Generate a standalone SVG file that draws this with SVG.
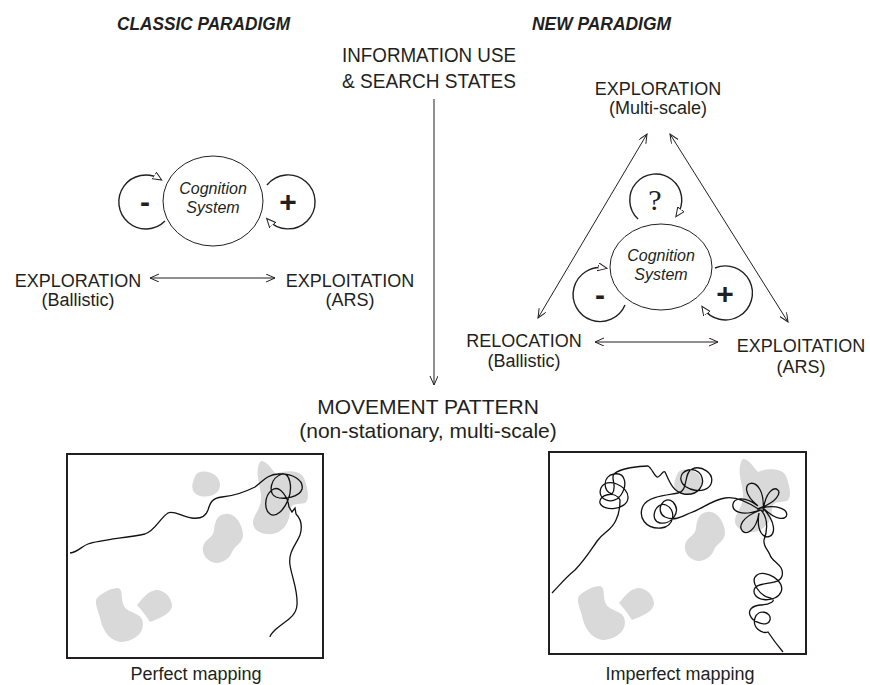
<svg xmlns="http://www.w3.org/2000/svg" width="870" height="685" viewBox="0 0 870 685">
<style>
text{font-family:"Liberation Sans",Arial,sans-serif;fill:#231f20}
.t{font-size:18px;text-anchor:middle}
.h{font-family:"Liberation Sans Narrow","Liberation Sans",Arial,sans-serif;font-size:19px;font-weight:bold;font-style:italic}
.n{font-family:"Liberation Sans Narrow","Liberation Sans",Arial,sans-serif;font-size:20px;text-anchor:middle}
.c{font-size:16px;font-style:italic;text-anchor:middle}
.s{font-size:30px;font-weight:bold;text-anchor:middle}
.ln{stroke:#231f20;stroke-width:1;fill:none}
.loop{stroke:#231f20;stroke-width:1.4;fill:none;marker-end:url(#tri)}
.blob{fill:#d9d9da}
.trk{stroke:#111;stroke-width:1.3;fill:none}
.box{fill:none;stroke:#231f20;stroke-width:2}
</style>
<defs>
<marker id="chev" markerUnits="userSpaceOnUse" markerWidth="12" markerHeight="10" refX="9" refY="4" orient="auto-start-reverse">
<path d="M0,0 L9,4 L0,8" fill="none" stroke="#231f20" stroke-width="1"/>
</marker>
<marker id="tri" markerUnits="userSpaceOnUse" markerWidth="12" markerHeight="10" refX="7" refY="4" orient="auto">
<path d="M0,0 L9,4 L0,8 Z" fill="#fff" stroke="#231f20" stroke-width="1"/>
</marker>
<g id="blobs">
<path class="blob" d="M200,472 C210,470 220,476 220,485 C220,494 210,498 200,496 C193,494 191,488 193,482 C195,476 196,473 200,472 Z"/>
<path class="blob" d="M262,461 C268,462 272,470 276,474 C285,470 300,470 304,478 C308,488 310,500 305,503 C298,505 292,502 290,510 C290,520 285,532 272,534 C262,535 252,530 253,522 C254,514 260,510 261,500 C262,490 256,478 258,468 C259,463 260,461 262,461 Z"/>
<path class="blob" d="M225,514 C235,512 243,525 243,535 C243,543 235,545 232,552 C229,560 220,565 212,562 C204,559 201,550 204,544 C207,538 213,538 214,530 C215,520 218,515 225,514 Z"/>
<path class="blob" d="M97,598 C103,592 112,588 118,588 C124,590 120,598 124,606 C128,614 143,612 143,624 C143,636 130,642 120,642 C108,640 102,628 100,618 C98,610 94,602 97,598 Z"/>
<path class="blob" d="M137,605 C143,598 148,591 156,590 C165,590 172,598 172,606 C171,614 160,618 150,622 C146,616 142,610 137,605 Z"/>
</g>
</defs>

<g id="titles">
<text class="h" x="117" y="30" textLength="173" lengthAdjust="spacingAndGlyphs">CLASSIC  PARADIGM</text>
<text class="h" x="532" y="30" textLength="139" lengthAdjust="spacingAndGlyphs">NEW PARADIGM</text>
</g>

<g id="info">
<text class="n" x="429" y="62" textLength="174" lengthAdjust="spacingAndGlyphs">INFORMATION USE</text>
<text class="n" x="429" y="88" textLength="174" lengthAdjust="spacingAndGlyphs">&amp; SEARCH STATES</text>
</g>

<g id="cog-left">
<ellipse cx="213" cy="201" rx="50" ry="45" fill="#fff" stroke="#231f20" stroke-width="1"/>
<text class="c" x="213" y="194">Cognition</text>
<text class="c" x="213" y="213">System</text>
</g>
<g id="loop-minus-left">
<path class="loop" d="M165,221 A27,27 0 1 1 160,179"/>
<text class="s" x="145" y="212">-</text>
</g>
<g id="loop-plus-left">
<path class="loop" d="M267,185 A27,27 0 1 1 268,220"/>
<text class="s" x="288" y="212">+</text>
</g>
<g id="exploration-left">
<text class="t" x="78" y="287">EXPLORATION</text>
<text class="t" x="78" y="306">(Ballistic)</text>
</g>
<g id="exploitation-left">
<text class="t" x="350" y="287">EXPLOITATION</text>
<text class="t" x="350" y="306">(ARS)</text>
</g>

<g id="exploration-right">
<text class="t" x="658" y="95">EXPLORATION</text>
<text class="t" x="658" y="114">(Multi-scale)</text>
</g>
<g id="cog-right">
<ellipse cx="661" cy="267" rx="51" ry="43" fill="#fff" stroke="#231f20" stroke-width="1"/>
<text class="c" x="661" y="261">Cognition</text>
<text class="c" x="661" y="280">System</text>
</g>
<g id="loop-q">
<path class="loop" d="M638,219 A26,26 0 1 1 677,215"/>
<text x="655" y="210" style="font-family:'Liberation Serif',serif;font-size:30px;text-anchor:middle">?</text>
</g>
<g id="loop-minus-right">
<path class="loop" d="M625,305 A27,27 0 1 1 605,268"/>
<text class="s" x="600" y="305">-</text>
</g>
<g id="loop-plus-right">
<path class="loop" d="M715,268 A27,27 0 1 1 703,308"/>
<text class="s" x="725" y="304">+</text>
</g>
<g id="relocation">
<text class="t" x="524" y="347">RELOCATION</text>
<text class="t" x="524" y="367">(Ballistic)</text>
</g>
<g id="exploitation-right">
<text class="t" x="801" y="352">EXPLOITATION</text>
<text class="t" x="801" y="373">(ARS)</text>
</g>

<g id="movement">
<text x="428" y="414" style="font-size:21px;text-anchor:middle">MOVEMENT PATTERN</text>
<text x="428" y="438" style="font-size:21px;text-anchor:middle">(non-stationary, multi-scale)</text>
</g>

<g id="connectors">
<line class="ln" x1="434" y1="99" x2="434" y2="385" marker-end="url(#chev)"/>
<line class="ln" x1="150" y1="278" x2="275" y2="278" marker-start="url(#chev)" marker-end="url(#chev)"/>
<line class="ln" x1="647" y1="134" x2="538" y2="318" marker-start="url(#chev)" marker-end="url(#chev)"/>
<line class="ln" x1="670" y1="134" x2="788" y2="322" marker-start="url(#chev)" marker-end="url(#chev)"/>
<line class="ln" x1="595" y1="342" x2="718" y2="342" marker-start="url(#chev)" marker-end="url(#chev)"/>
</g>

<g id="map-perfect">
<use href="#blobs"/>
<rect class="box" x="67" y="454" width="256" height="204"/>
<path class="trk" d="M70,553 C78,552 82,546 88,544 C100,540 125,538 145,534 C155,531 160,518 168,513 C174,510 182,517 192,518 C200,519 206,516 208,510 C210,503 212,498 222,497 C235,496 245,492 255,487 C262,482 268,474 278,474 C292,473 304,480 302,489 C300,497 284,500 276,497 C268,493 270,478 282,474 C290,472 293,488 288,500 C284,510 276,518 270,514 C264,510 264,496 272,490 C280,484 288,498 289,507 L292,512 L295,508 L296,514 C300,518 303,525 300,535 C296,545 288,552 290,565 C292,578 298,590 297,605 C296,618 283,622 275,630 C272,633 270,636 270,637"/>
<text class="t" x="196" y="680">Perfect mapping</text>
</g>

<g id="map-imperfect">
<use href="#blobs" transform="translate(482,-2)"/>
<rect class="box" x="549" y="452" width="257" height="202"/>
<path class="trk" d="M552,593 C560,585 565,578 575,570 C585,560 592,548 598,540 C604,532 612,530 616,520 C620,512 620,505 620,500 C615,490 598,495 600,503 C603,512 627,510 628,498 C629,486 606,476 601,488 C596,500 614,506 621,495 C628,484 625,472 614,474 C602,476 603,492 612,494 C618,486 610,478 614,474 C620,468 640,466 648,466 C652,468 655,478 658,477 C661,476 663,470 665,472 C668,478 672,492 684,494 C698,496 706,485 701,475 C696,466 679,469 681,480 C683,491 706,495 711,484 C715,473 701,465 692,469 C683,473 689,491 678,493 C668,495 648,496 643,506 C638,517 645,529 661,528 C674,527 677,510 666,505 C655,501 649,521 660,523 C671,525 682,512 673,502 C664,494 654,511 665,517 C675,522 685,515 690,513 C700,510 712,500 725,498 C735,496 748,502 760,510 C720.5,524.4 727.8,483 758,506 C727.8,481 767.3,468.6 763,512 C767.3,470 799.5,495.6 757,509 C799.5,497 792.2,537 762,507 C792.2,539 752.7,551.4 759,513 C752.7,551 720.5,524 761,510 C770,520 766,535 764,540 C763,546 768,550 770,555 C772,562 785,565 782,576 C779,587 754,580 754,591 C754,602 776,603 781,592 C786,581 765,569 757,575 C749,581 760,596 770,598 C778,600 770,605 760,605 C752,606 748,610 750,615 C752,622 768,628 770,620 C772,612 758,608 755,618 C752,628 762,634 768,632 C772,638 778,646 783,652"/>
<text class="t" x="680" y="680">Imperfect mapping</text>
</g>
</svg>
